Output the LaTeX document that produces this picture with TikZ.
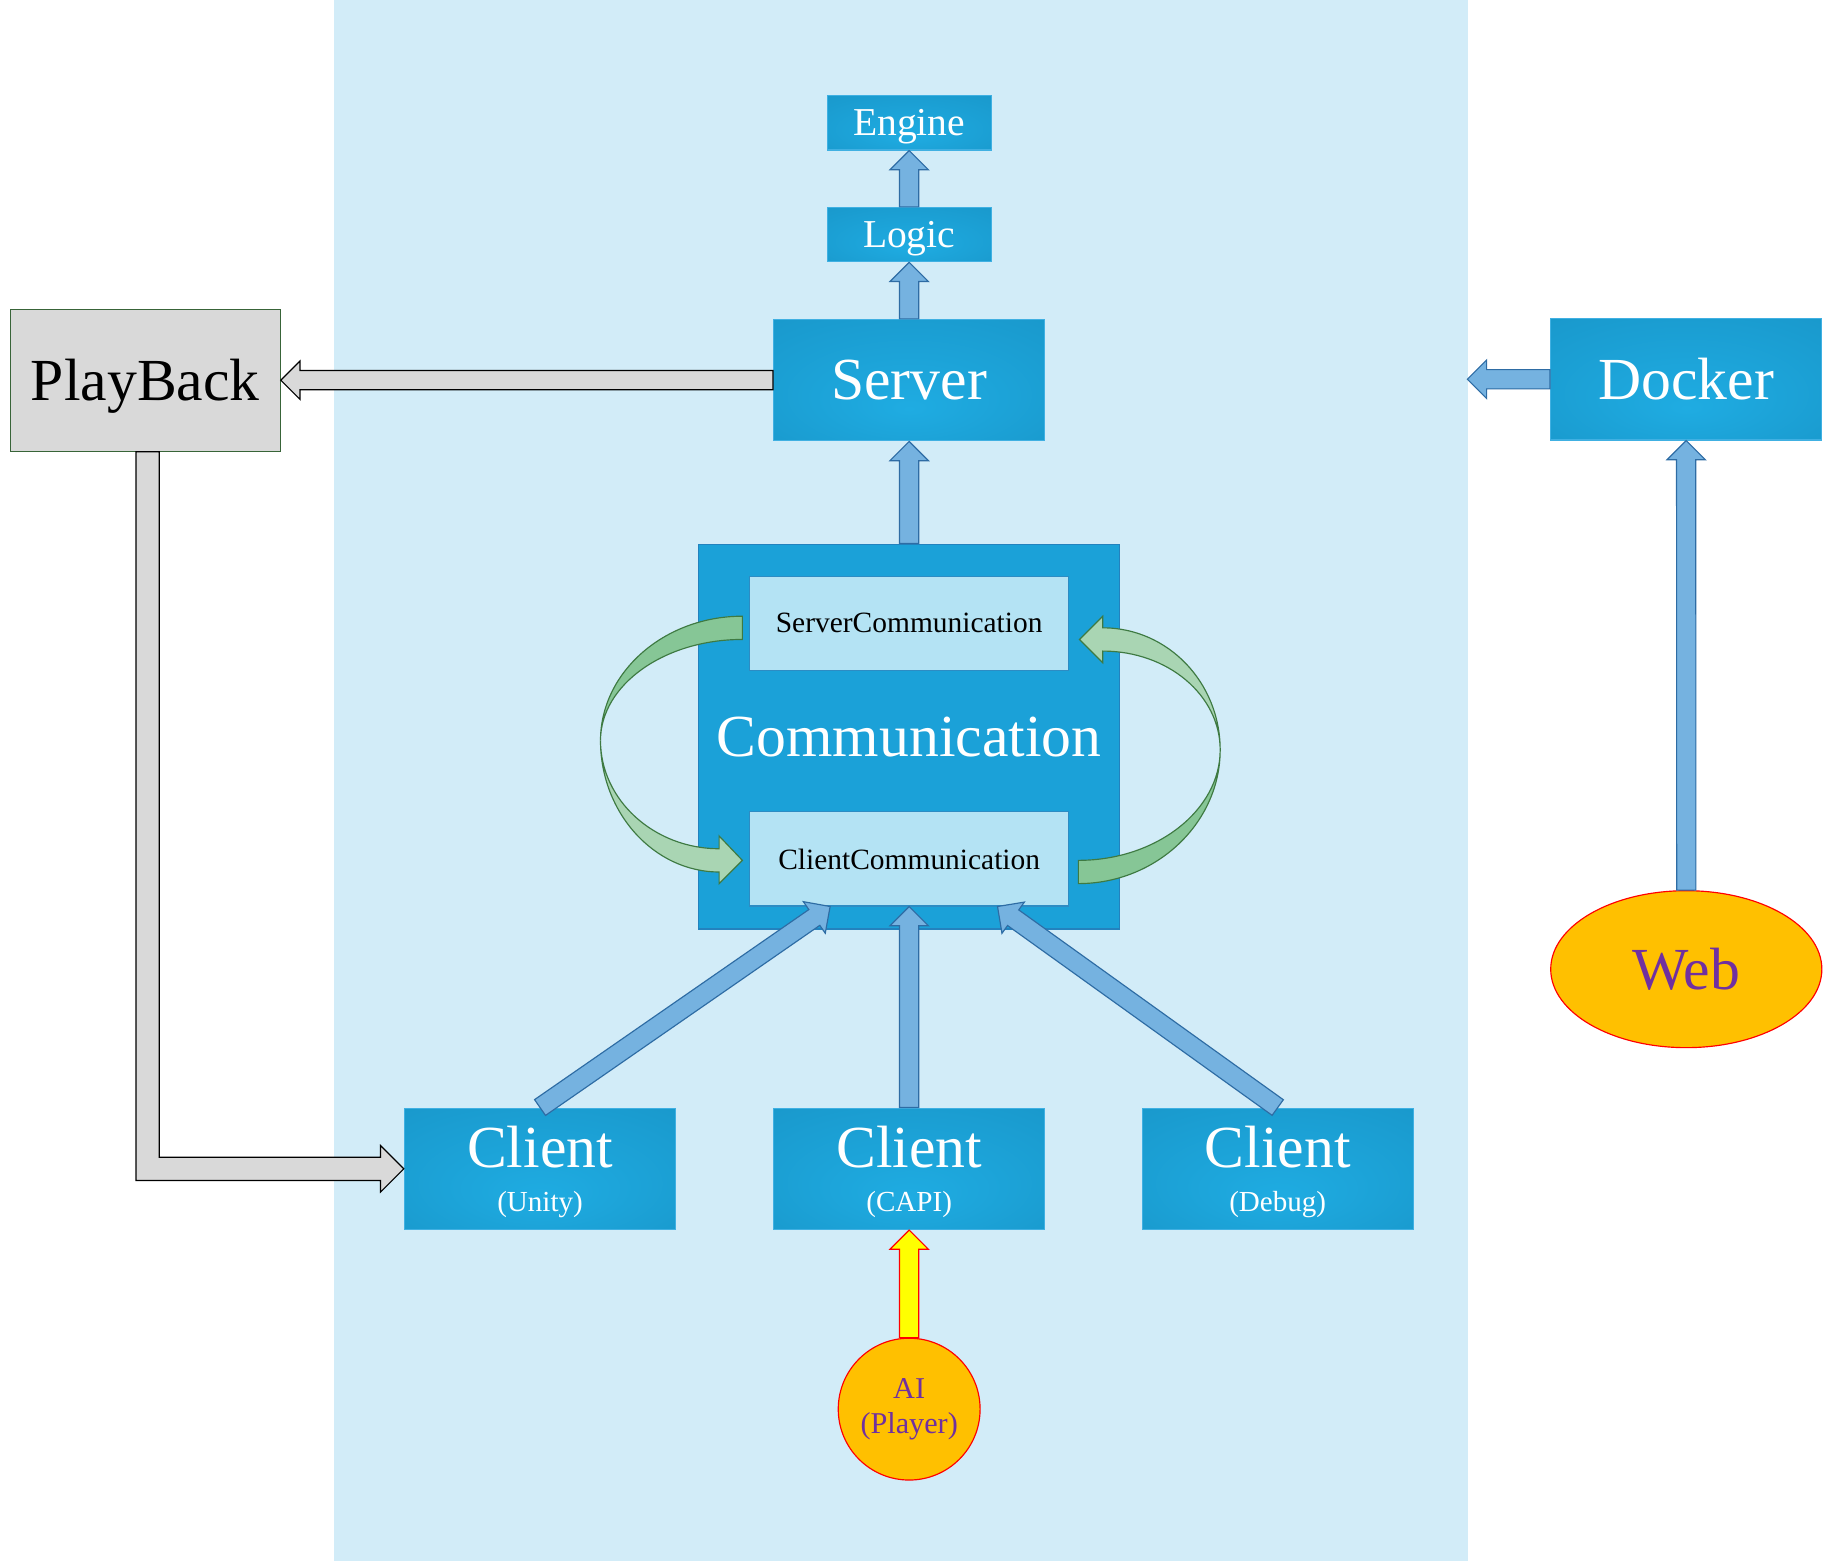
\documentclass[tikz,border=0pt]{standalone}
\usepackage{fontspec}
\setmainfont{Liberation Serif}
\usetikzlibrary{calc,shapes.geometric}

\definecolor{boxlight}{RGB}{31,172,226}
\definecolor{boxdark}{RGB}{24,149,200}
\pgfdeclareradialshading{boxglow}{\pgfpoint{0bp}{-12bp}}{color(0bp)=(boxlight); color(45bp)=(boxdark)}

\tikzset{every picture/.style={line width=0.75pt}}
\tikzset{
  bluebox/.style={draw={rgb, 255:red, 64; green, 176; blue, 226}, shading=boxglow, text={rgb, 255:red, 255; green, 255; blue, 255}, inner sep=0pt, text depth=0pt, align=center},
  bigbox/.style={bluebox, minimum width=175pt, minimum height=78.3pt, font=\fontsize{38.5pt}{28pt}\selectfont},
  tinybox/.style={bluebox, minimum width=105.75pt, minimum height=35pt, font=\fontsize{25.5pt}{30pt}\selectfont},
  commbox/.style={draw={rgb, 255:red, 35; green, 130; blue, 190}, fill={rgb, 255:red, 27; green, 161; blue, 216}, text=white, minimum width=271.5pt, minimum height=248.25pt, inner sep=0pt, text depth=0pt, font=\fontsize{38.5pt}{40pt}\selectfont},
  subbox/.style={draw={rgb, 255:red, 45; green, 140; blue, 195}, fill={rgb, 255:red, 180; green, 227; blue, 244}, text=black, minimum width=205.5pt, minimum height=60.75pt, inner sep=0pt, text depth=0pt, font=\fontsize{19pt}{22pt}\selectfont},
  graybox/.style={draw={rgb, 255:red, 56; green, 100; blue, 56}, fill={rgb, 255:red, 217; green, 217; blue, 217}, text=black, minimum width=174pt, minimum height=91.5pt, inner sep=0pt, text depth=0pt, font=\fontsize{38.5pt}{40pt}\selectfont},
  goldshape/.style={draw={rgb, 255:red, 255; green, 0; blue, 0}, fill={rgb, 255:red, 255; green, 192; blue, 0}, text={rgb, 255:red, 112; green, 48; blue, 160}, inner sep=0pt, align=center},
  bluearrow/.style={draw={rgb, 255:red, 46; green, 108; blue, 164}, fill={rgb, 255:red, 117; green, 178; blue, 224}},
  grayarrow/.style={draw={rgb, 255:red, 0; green, 0; blue, 0}, fill={rgb, 255:red, 217; green, 217; blue, 217}},
  yellowarrow/.style={draw={rgb, 255:red, 255; green, 0; blue, 0}, fill={rgb, 255:red, 255; green, 255; blue, 0}},
  darkband/.style={draw={rgb, 255:red, 62; green, 122; blue, 66}, fill={rgb, 255:red, 134; green, 198; blue, 150}},
  lightband/.style={draw={rgb, 255:red, 62; green, 122; blue, 66}, fill={rgb, 255:red, 169; green, 213; blue, 179}}
}

% block arrow: [style]{head coordinate}{from}{to}
\newcommand{\fatarrow}[4][bluearrow]{%
  \coordinate (#2) at ($(#4)!12.4pt!(#3)$);
  \draw[#1] ($(#3)!6.2pt!90:(#4)$) -- ($(#2)!6.2pt!-90:(#3)$) -- ($(#2)!12.4pt!-90:(#3)$) -- (#4) -- ($(#2)!12.4pt!90:(#3)$) -- ($(#2)!6.2pt!90:(#3)$) -- ($(#3)!6.2pt!-90:(#4)$) -- cycle;
}
\newcommand{\sublabel}[1]{{\fontsize{18.75pt}{22pt}\selectfont #1}}

\begin{document}
\begin{tikzpicture}[x=0.75pt,y=0.75pt,yscale=-1,xscale=1]
	\useasboundingbox (0,0) rectangle (1568,1343);

	%Shape: Rectangle [background]
	\fill [fill={rgb, 255:red, 210; green, 236; blue, 248 }] (287,0) rectangle (1263,1343);

	%Shape: Rectangle [communication]
	\node[commbox] (comm) at (782,633.5) {Communication};
	\node[subbox] (sc) at (782,536) {ServerCommunication};
	\node[subbox] (cc) at (782,738.7) {ClientCommunication};

	%Curved Arrow [server to client]
	\begin{scope}[shift={(sc.west)}]
	\draw[darkband] (-6,-6) .. controls (-73,-6) and (-128,42) .. (-128,101) .. controls (-128,53) and (-73,14) .. (-6,14) -- cycle;
	\draw[lightband] (-128,101) .. controls (-128,163) and (-82,214) .. (-26,214) -- (-26,224) -- (-6,204) -- (-26,183) -- (-26,194) .. controls (-82,194) and (-128,152) .. (-128,101) -- cycle;
	\end{scope}
	%Curved Arrow [client to server]
	\begin{scope}[shift={(sc.east)}]
	\draw[darkband] (8,224) .. controls (75,224) and (130,172) .. (130,109) .. controls (130,161) and (75,204) .. (8,204) -- cycle;
	\draw[lightband] (130,109) .. controls (130,51) and (85,4) .. (29,4) -- (29,-6) -- (9,14) -- (29,34) -- (29,24) .. controls (85,24) and (130,62) .. (130,109) -- cycle;
	\end{scope}

	% Text Node
	\node[tinybox] (eng) at (782,105.7) {Engine};
	\node[tinybox] (logic) at (782,201.8) {Logic};
	\node[bigbox] (srv) at (782,327) {Server};
	\node[graybox] (pb) at (125,327) {PlayBack};
	\node[bigbox] (dock) at (1450.3,326.2) {Docker};
	\node[goldshape, ellipse, minimum width=174.9pt, minimum height=101.25pt, font=\fontsize{38.5pt}{40pt}\selectfont] (web) at (1450.4,833.6) {Web};
	\node[bigbox] (cu) at (464.5,1005.3) {Client\\\sublabel{(Unity)}};
	\node[bigbox] (cp) at (782,1005.3) {Client\\\sublabel{(CAPI)}};
	\node[bigbox] (cd) at (1099,1005.3) {Client\\\sublabel{(Debug)}};
	\node[goldshape, circle, minimum size=91.5pt, font=\fontsize{19.5pt}{22.5pt}\selectfont] (ai) at (782,1212) {AI\\(Player)};

	\coordinate (ccL) at ($(cc.south)+(-68,0)$);
	\coordinate (ccR) at ($(cc.south)+(76,0)$);
	\coordinate (dockout) at ($(dock.west)+(-71,0)$);

	%Block Arrows
	\fatarrow{h1}{logic.north}{eng.south}
	\fatarrow{h2}{srv.north}{logic.south}
	\fatarrow{h3}{comm.north}{srv.south}
	\fatarrow[grayarrow]{h4}{srv.west}{pb.east}
	\fatarrow{h5}{dock.west}{dockout}
	\fatarrow{h6}{web.north}{dock.south}
	\fatarrow{h7}{cu.north}{ccL}
	\fatarrow{h8}{cp.north}{cc.south}
	\fatarrow{h9}{cd.north}{ccR}
	\fatarrow[yellowarrow]{h10}{ai.north}{cp.south}

	%Elbow Arrow [playback to client]
	\draw[grayarrow] ($(pb.south)+(-8,0)$) -- ($(pb.south |- cu.west)+(-8,10)$) -- ($(cu.west)+(-20,10)$) -- ($(cu.west)+(-20,20)$) -- (cu.west) -- ($(cu.west)+(-20,-20)$) -- ($(cu.west)+(-20,-10)$) -- ($(pb.south |- cu.west)+(12,-10)$) -- ($(pb.south)+(12,0)$) -- cycle;

\end{tikzpicture}
\end{document}
